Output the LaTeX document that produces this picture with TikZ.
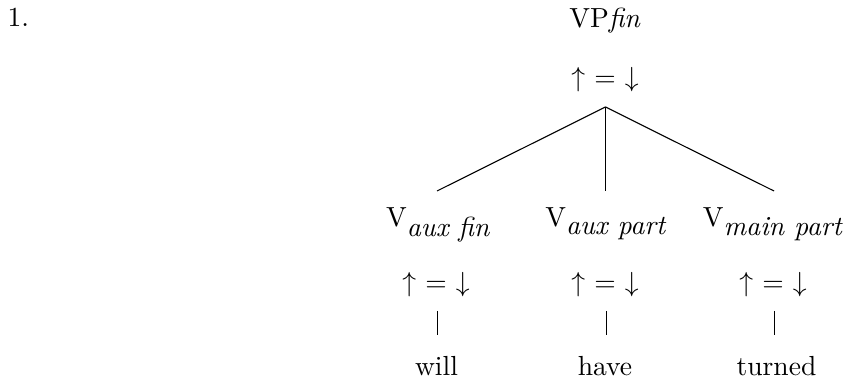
\documentclass[tikz,border=0pt]{standalone}
\begin{document}
\begin{tikzpicture}[x=0.3623pt,y=-0.3623pt,
  lab/.style={inner sep=0pt,anchor=base},
  edge/.style={line width=0.4pt},
  bar/.style={line width=0.3pt}]
\useasboundingbox (0,0) rectangle (850,383);
% example number
\node[lab,anchor=base west] (num) at (7,27) {1.};
% mother
\node[lab] (vp) at (605,28) {VP\textit{fin}};
\node[lab] (vpeq) at (605,86.5) {$\uparrow$ = $\downarrow$};
\coordinate (apex) at (605.5,107);
% daughters
\node[lab] (d1) at (438.5,227) {V$_{\mbox{\itshape aux fin}}$};
\node[lab] (d2) at (606,227) {V$_{\mbox{\itshape aux part}}$};
\node[lab] (d3) at (773,227) {V$_{\mbox{\itshape main part}}$};
\coordinate (f1) at (437,191);
\coordinate (f2) at (605.5,191);
\coordinate (f3) at (774,191);
\node[lab] (e1) at (436,291.5) {$\uparrow$ = $\downarrow$};
\node[lab] (e2) at (605,291.5) {$\uparrow$ = $\downarrow$};
\node[lab] (e3) at (773,291.5) {$\uparrow$ = $\downarrow$};
% words
\node[lab] (w1) at (436.5,376) {will};
\node[lab] (w2) at (605,376) {have};
\node[lab] (w3) at (776.5,376) {turned};
\coordinate (b1t) at (437.5,311);
\coordinate (b1b) at (437.5,335);
\coordinate (b2t) at (606.5,311);
\coordinate (b2b) at (606.5,335);
\coordinate (b3t) at (774.5,311);
\coordinate (b3b) at (774.5,335);
% connectors
\draw[edge] (apex) -- (f1);
\draw[edge] (apex) -- (f2);
\draw[edge] (apex) -- (f3);
\draw[bar] (b1t) -- (b1b);
\draw[bar] (b2t) -- (b2b);
\draw[bar] (b3t) -- (b3b);
\end{tikzpicture}
\end{document}
